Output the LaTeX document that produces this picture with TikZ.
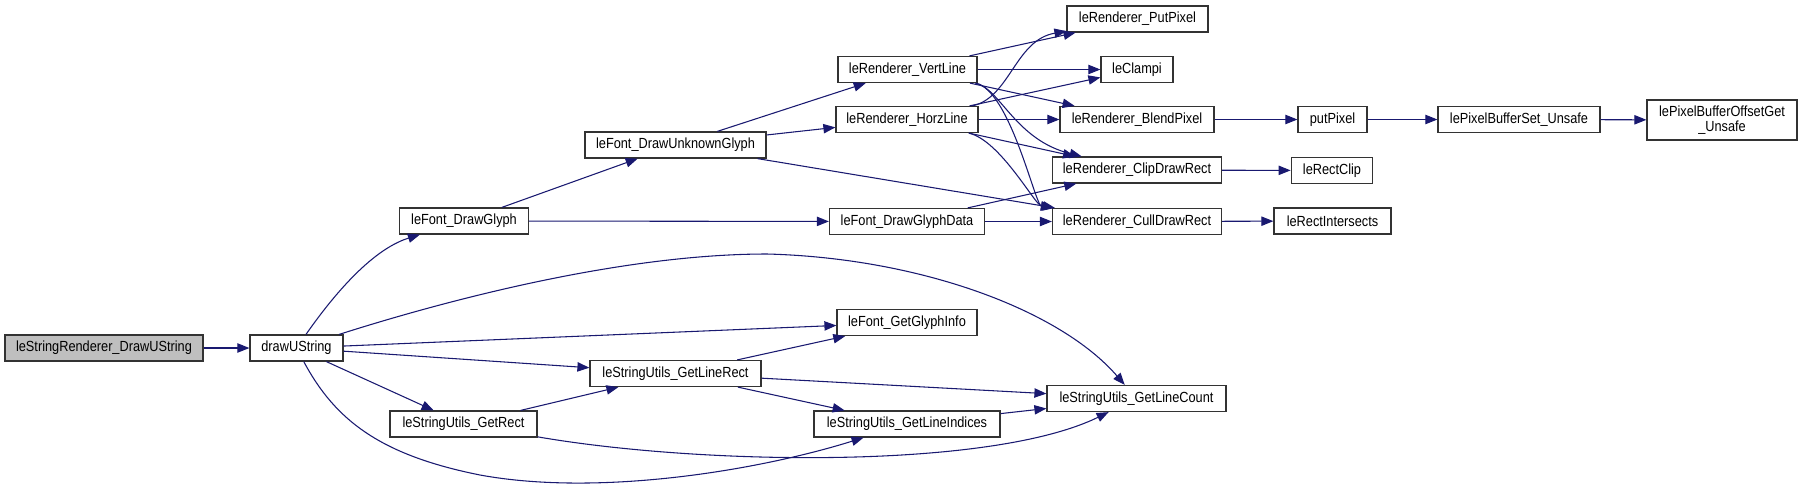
\documentclass[tikz,border=0pt]{standalone}
\usepackage{fontspec}
\setmainfont[FakeStretch=0.87]{Liberation Sans}
\usetikzlibrary{arrows.meta}
\definecolor{edgeblue}{RGB}{25,25,112}
\definecolor{rootgray}{RGB}{191,191,191}

\begin{document}
\begin{tikzpicture}[x=0.75pt, y=-0.75pt, ->, >={Triangle[length=9pt,width=7pt]},
            every edge/.style={draw=edgeblue, line width=0.8pt},
            call/.style={draw=edgeblue, line width=0.8pt},
            fn/.style={draw=black!80, line width=0.9pt, fill=white, inner sep=0pt,
                minimum height=19.5pt, font=\fontsize{11pt}{11.25pt}\selectfont},
            wd/.style={minimum width=#1*0.75pt}]

        \useasboundingbox (0,0) rectangle (1803,490);

        % --- Functions ---
        \node[fn, wd=198, fill=rootgray] (root) at (104,348) {leStringRenderer\_DrawUString};
        \node[fn, wd=93]    (draw)   at (296.5,348)  {drawUString};
        \node[fn, wd=128.5] (glyph)  at (464,221)    {leFont\_DrawGlyph};
        \node[fn, wd=147]   (rect)   at (463.5,424)  {leStringUtils\_GetRect};
        \node[fn, wd=181]   (unk)    at (675.5,145)  {leFont\_DrawUnknownGlyph};
        \node[fn, wd=171]   (lrect)  at (675.5,373.5) {leStringUtils\_GetLineRect};
        \node[fn, wd=139]   (vline)  at (907.5,69.5) {leRenderer\_VertLine};
        \node[fn, wd=142]   (hline)  at (907,119.5)  {leRenderer\_HorzLine};
        \node[fn, wd=155]   (gdata)  at (907,221.5)  {leFont\_DrawGlyphData};
        \node[fn, wd=140]   (ginfo)  at (907,322.5)  {leFont\_GetGlyphInfo};
        \node[fn, wd=186]   (lidx)   at (907,424)    {leStringUtils\_GetLineIndices};
        \node[fn, wd=141]   (put)    at (1137.5,19)  {leRenderer\_PutPixel};
        \node[fn, wd=72]    (clamp)  at (1137,69.5)  {leClampi};
        \node[fn, wd=154]   (blend)  at (1137,119.5) {leRenderer\_BlendPixel};
        \node[fn, wd=169]   (clip)   at (1137,170)   {leRenderer\_ClipDrawRect};
        \node[fn, wd=169]   (cull)   at (1137,221.5) {leRenderer\_CullDrawRect};
        \node[fn, wd=179]   (lcount) at (1136.5,398.5) {leStringUtils\_GetLineCount};
        \node[fn, wd=69]    (pix)    at (1332.5,119.5) {putPixel};
        \node[fn, wd=81.5]  (rclip)  at (1332,170.5) {leRectClip};
        \node[fn, wd=117]   (rinter) at (1332.5,221) {leRectIntersects};
        \node[fn, wd=162]   (bset)   at (1519,119.5) {lePixelBufferSet\_Unsafe};
        \node[fn, wd=150, minimum height=30pt, align=center] (boff) at (1722,120)
            {lePixelBufferOffsetGet\\\_Unsafe};

        % --- Straight calls ---
        \path (root) edge (draw)
              (draw) edge (ginfo)
              (draw) edge (lrect)
              (draw) edge (rect)
              (glyph) edge (unk)
              (glyph) edge (gdata)
              (unk) edge (vline)
              (unk) edge (hline)
              (unk) edge (cull)
              (vline) edge (put)
              (vline) edge (clamp)
              (vline) edge (blend)
              (hline) edge (clamp)
              (hline) edge (blend)
              (hline) edge (clip)
              (gdata) edge (clip)
              (gdata) edge (cull)
              (blend) edge (pix)
              (pix) edge (bset)
              (bset) edge (boff)
              (clip) edge (rclip)
              (cull) edge (rinter)
              (rect) edge (lrect)
              (lrect) edge (ginfo)
              (lrect) edge (lcount)
              (lrect) edge (lidx)
              (lidx) edge (lcount);

        % --- Curved calls ---
        \draw[call] (draw) .. controls (330,300) and (370,250) .. (glyph);
        \draw[call] (draw) .. controls (400,315) and (600,254) .. (767,254)
                           .. controls (920,258) and (1060,310) .. (lcount);
        \draw[call] (draw) .. controls (335,420) and (380,455) .. (480,475)
                           .. controls (600,497) and (760,470) .. (lidx);
        \draw[call] (rect) .. controls (700,465) and (990,470) .. (lcount);
        \draw[call] (vline) .. controls (1000,88) and (1015,140) .. (clip);
        \draw[call] (vline) .. controls (1010,90) and (1035,205) .. (cull);
        \draw[call] (hline) .. controls (1010,98) and (1015,40) .. (put);
        \draw[call] (hline) .. controls (1000,140) and (1035,205) .. (cull);

    \end{tikzpicture}
\end{document}
